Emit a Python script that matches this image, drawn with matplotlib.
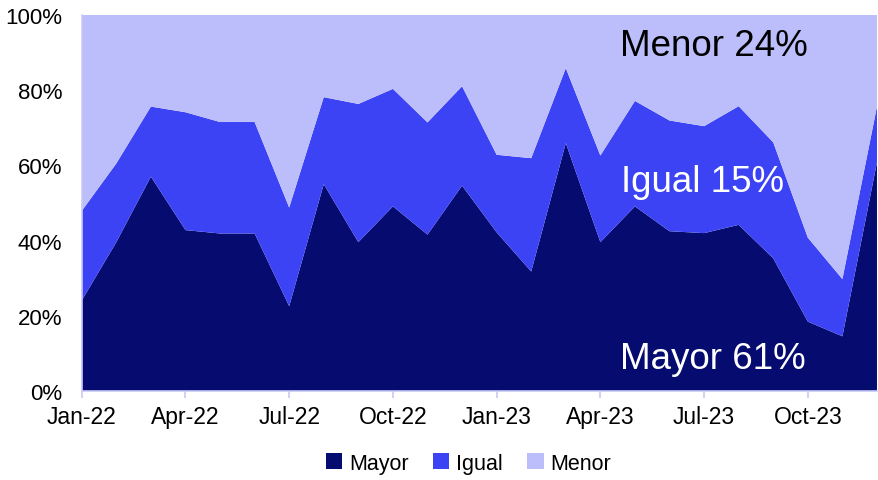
import numpy as np
import matplotlib.pyplot as plt

plt.rcParams['font.family'] = ['Liberation Sans', 'DejaVu Sans']

# monthly shares (%), Jan-22 .. Dec-23
months = ['Jan-22', 'Feb-22', 'Mar-22', 'Apr-22', 'May-22', 'Jun-22',
          'Jul-22', 'Aug-22', 'Sep-22', 'Oct-22', 'Nov-22', 'Dec-22',
          'Jan-23', 'Feb-23', 'Mar-23', 'Apr-23', 'May-23', 'Jun-23',
          'Jul-23', 'Aug-23', 'Sep-23', 'Oct-23', 'Nov-23', 'Dec-23']
mayor = [24.1, 39.6, 57.0, 42.8, 41.9, 41.9, 22.6, 55.0, 39.6, 49.1, 41.6, 54.6,
         42.2, 31.8, 65.9, 39.6, 49.1, 42.5, 42.0, 44.2, 35.3, 18.5, 14.6, 60.8]
igual = [23.8, 20.9, 18.6, 31.3, 29.6, 29.6, 26.2, 23.1, 36.7, 31.2, 29.8, 26.4,
         20.6, 30.1, 19.9, 23.0, 28.0, 29.4, 28.4, 31.5, 30.8, 22.3, 15.2, 14.8]
menor = [52.1, 39.5, 24.4, 25.9, 28.5, 28.5, 51.2, 21.9, 23.7, 19.7, 28.6, 19.0,
         37.2, 38.1, 14.2, 37.4, 22.9, 28.1, 29.6, 24.3, 33.9, 59.2, 70.2, 24.4]
labels = ['Mayor', 'Igual', 'Menor']
colors = ['#060b70', '#3b43f5', '#bcbefb']

x = np.arange(len(months))

fig = plt.figure(figsize=(8.79, 4.81), dpi=100)
ax = fig.add_axes([0.093, 0.1844, 0.9047, 0.783])

ax.stackplot(x, mayor, igual, menor, labels=labels, colors=colors, linewidth=0)

ax.set_xlim(0, len(months) - 1)
ax.set_ylim(0, 100)
ax.set_xticks(x[::3])
ax.set_xticklabels(months[::3])
ax.set_yticks(np.arange(0, 101, 20))
ax.set_yticklabels([f'{v}%' for v in range(0, 101, 20)])

ax.tick_params(axis='x', length=5, width=1.2, color='#c8cbf5', pad=5, labelsize=16.5)
ax.tick_params(axis='y', length=0, pad=14, labelsize=16)
for s in ['top', 'right']:
    ax.spines[s].set_visible(False)
for s in ['left', 'bottom']:
    ax.spines[s].set_color('#c8cbf5')
    ax.spines[s].set_linewidth(1.2)

# end-of-period labels
ax.text(0.6765, 0.892, 'Menor 24%', transform=ax.transAxes, fontsize=26.5, color='black')
ax.text(0.6785, 0.532, 'Igual 15%', transform=ax.transAxes, fontsize=26.5, color='white')
ax.text(0.6765, 0.063, 'Mayor 61%', transform=ax.transAxes, fontsize=26.5, color='white')

fig.legend(*ax.get_legend_handles_labels(), loc='center', bbox_to_anchor=(0.533, 0.035),
           ncol=3, frameon=False, fontsize=15.5, handlelength=0.75, handleheight=0.75,
           handletextpad=0.3, columnspacing=1.15)

fig.savefig('out.png', dpi=100)
